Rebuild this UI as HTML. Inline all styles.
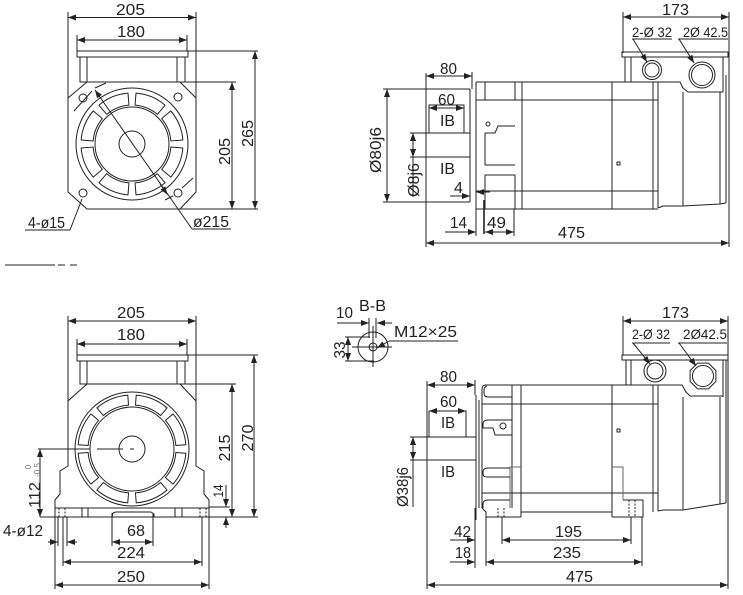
<!DOCTYPE html>
<html><head><meta charset="utf-8"><style>
html,body{margin:0;padding:0;background:#fff;}
svg{display:block;}
.d{marker-start:url(#a);marker-end:url(#a);}
.e{marker-end:url(#a);}
.s{marker-start:url(#a);}
text{font-family:"Liberation Sans",Arial,sans-serif;font-size:16px;fill:#222;stroke:none;}
.t{font-size:14px;}
</style></head><body>
<svg width="743" height="595" viewBox="0 0 743 595" xmlns="http://www.w3.org/2000/svg">
<defs>
<marker id="a" viewBox="0 0 8 6" refX="8" refY="3" markerWidth="8" markerHeight="6" markerUnits="userSpaceOnUse" orient="auto-start-reverse"><path d="M0,0L8,3L0,6z" fill="#222"/></marker>
<path id="sl1" d="M50.84,4.00 A51,51 0 0 1 38.78,33.12 L29.66,25.33 A39,39 0 0 0 38.88,3.06 Z"/>
<path id="sl2" d="M53.83,4.24 A54,54 0 0 1 41.06,35.07 L33.46,28.58 A44,44 0 0 0 43.86,3.45 Z"/>
</defs>
<rect width="743" height="595" fill="#fff"/>
<g fill="none" stroke="#222" stroke-width="1" stroke-linejoin="round">

<!-- ============ TOP LEFT ============ -->
<path d="M68,12V98M196,12V98M77,35V51M187,35V51M188,51H258M185,82H236M180,209H258"/>
<rect x="77" y="51" width="111" height="6"/>
<rect x="80" y="57" width="7" height="25"/>
<rect x="177" y="57" width="8" height="25"/>
<polygon points="87,82 180,82 196,98 196,192 180,209 87,209 68,192 68,98"/>
<line class="d" x1="68" y1="17.5" x2="196" y2="17.5"/>
<line class="d" x1="77" y1="40" x2="187" y2="40"/>
<line class="d" x1="232" y1="82" x2="232" y2="209"/>
<line class="d" x1="255" y1="51" x2="255" y2="209"/>
<circle cx="132" cy="144" r="56"/>
<circle cx="132" cy="144" r="37"/>
<circle cx="132" cy="144" r="13"/>
<g transform="translate(132,144)">
<use href="#sl1"/><use href="#sl1" transform="rotate(45)"/><use href="#sl1" transform="rotate(90)"/><use href="#sl1" transform="rotate(135)"/>
<use href="#sl1" transform="rotate(180)"/><use href="#sl1" transform="rotate(225)"/><use href="#sl1" transform="rotate(270)"/><use href="#sl1" transform="rotate(315)"/>
</g>
<circle cx="83" cy="98" r="4"/>
<circle cx="178" cy="97" r="4"/>
<circle cx="83" cy="193" r="4"/>
<circle cx="178" cy="193" r="4"/>
<path d="M74,111L92,91M95,88L106,83M165,200L173,196M182,188L193,178"/>
<line class="s" x1="95" y1="90" x2="192" y2="229"/>
<line class="e" x1="160" y1="184" x2="167.5" y2="194.5"/>
<path d="M192,229H231"/>
<polyline points="82,199 70,230 25,230"/>

<!-- ============ TOP RIGHT ============ -->
<line class="d" x1="623" y1="17" x2="729" y2="17"/>
<path d="M623,12V53M729,12V247"/>
<path d="M632,39H672M678,39H728"/>
<line class="e" x1="633" y1="39" x2="647" y2="62"/>
<line class="e" x1="679" y1="39" x2="694" y2="63"/>
<rect x="622" y="52" width="106" height="5"/>
<path d="M625,57V82M631,57V82M723,57V92"/>
<circle cx="652" cy="70" r="9.5"/><circle cx="652" cy="70" r="7"/>
<circle cx="702" cy="75" r="13"/><circle cx="702" cy="75" r="10.5"/>
<!-- body -->
<path d="M476,82H680L683,88L688,92H723"/>
<path d="M476,82V209H658"/>
<path d="M485,82V100M515,82V100M485,175V209M515,175V209M485,175H515"/>
<path d="M476,100H658M476,191H658"/>
<path d="M522,82V209M612,82V209M653,82V209M658,82V208"/>
<path d="M683,92V206M720,92V204M726,75V203"/>
<polyline points="658,208 663,206 683,206 720,204 726,203"/>
<polyline points="515,126 498,126 495,133 485,133 485,165 515,165"/>
<circle cx="488" cy="124" r="2"/>
<rect x="617" y="162" width="3" height="3"/>
<!-- shaft -->
<rect x="429" y="105" width="35" height="28"/>
<path d="M410,133H470M410,157H470M470,89V202M383,89H470M383,202H470M426,73V247M472,72V89"/>
<line class="d" x1="426" y1="76" x2="472" y2="76"/>
<line class="d" x1="429" y1="108" x2="464" y2="108"/>
<line class="d" x1="387" y1="89" x2="387" y2="202"/>
<line class="d" x1="413" y1="133" x2="413" y2="157"/>
<path d="M413,157V197"/>
<line class="e" x1="450" y1="196" x2="470" y2="196"/>
<line class="e" x1="490" y1="192" x2="476" y2="192"/>
<path d="M476,209V236M514,209V236"/>
<path d="M484,200V234" stroke-width="1.6"/>
<line class="e" x1="445" y1="232" x2="476" y2="232"/>
<line class="d" x1="485" y1="232" x2="514" y2="232"/>
<line class="d" x1="426" y1="243" x2="729" y2="243"/>

<!-- divider line -->
<path d="M5,265H55M58,265H65M70,265H77"/>

<!-- ============ BOTTOM LEFT ============ -->
<path d="M68,316V401M196,316V401M77,339V355M187,339V355M188,355H258M185,384H236"/>
<line class="d" x1="68" y1="321" x2="196" y2="321"/>
<line class="d" x1="77" y1="344" x2="187" y2="344"/>
<rect x="77" y="355" width="111" height="6"/>
<rect x="80" y="361" width="7" height="23"/>
<rect x="177" y="361" width="8" height="23"/>
<polygon points="87,384 180,384 196,401 196,466 204,471 204,494 209,500 209,517 55,517 55,500 60,494 60,471 68,466 68,401"/>
<path d="M55,508H209M40,517H258"/>
<polyline points="112,517 113,513 116,512 151,512 154,514 154,517"/>
<path d="M59,508V517M65,508V517M200,508V517M206,508V517" stroke-dasharray="2,1.5"/>
<path d="M82,508V517M88,508V517M175,508V517M182,508V517"/>
<circle cx="132" cy="449" r="57"/>
<circle cx="132" cy="449" r="42"/>
<circle cx="132" cy="449" r="13"/>
<g transform="translate(132,449)">
<use href="#sl2"/><use href="#sl2" transform="rotate(45)"/><use href="#sl2" transform="rotate(90)"/><use href="#sl2" transform="rotate(135)"/>
<use href="#sl2" transform="rotate(180)"/><use href="#sl2" transform="rotate(225)"/><use href="#sl2" transform="rotate(270)"/><use href="#sl2" transform="rotate(315)"/>
</g>
<path d="M38,449H90M97,449H123M130,449H134"/>
<line class="d" x1="40" y1="449" x2="40" y2="517"/>
<line class="d" x1="232" y1="384" x2="232" y2="517"/>
<line class="d" x1="254" y1="355" x2="254" y2="517"/>
<line class="e" x1="226" y1="485" x2="226" y2="507"/>
<path d="M209,507H230"/>
<line class="e" x1="226" y1="528" x2="226" y2="517"/>
<path d="M58,517V546M67,517V546M112,513V546M153,513V546M63,517V566M202,517V566M55,517V589M209,517V589"/>
<line class="e" x1="48" y1="542" x2="58" y2="542"/>
<line class="e" x1="77" y1="542" x2="67" y2="542"/>
<line class="d" x1="112" y1="542" x2="153" y2="542"/>
<line class="d" x1="63" y1="562" x2="202" y2="562"/>
<line class="d" x1="55" y1="585" x2="209" y2="585"/>

<!-- ============ B-B ============ -->
<line class="e" x1="337" y1="323" x2="369" y2="323"/>
<line class="e" x1="392" y1="323" x2="377" y2="323"/>
<path d="M369,318V338M376,318V338"/>
<circle cx="373" cy="347" r="15"/>
<circle cx="373" cy="347" r="4"/>
<path d="M352,347H392M373,326V367"/>
<path d="M345,337H370M345,361H374"/>
<line class="d" x1="348" y1="337" x2="348" y2="361"/>
<line class="e" x1="389" y1="341" x2="377" y2="348"/>
<path d="M389,341H458"/>

<!-- ============ BOTTOM RIGHT ============ -->
<line class="d" x1="623" y1="321" x2="728" y2="321"/>
<path d="M623,316V355M728,316V589"/>
<path d="M632,343H670M678,343H727"/>
<line class="e" x1="633" y1="343" x2="650" y2="364"/>
<line class="e" x1="679" y1="343" x2="696" y2="366"/>
<rect x="622" y="355" width="106" height="5"/>
<path d="M626,360V385M631,360V385M723,360V397"/>
<circle cx="655" cy="371" r="11"/><circle cx="655" cy="371" r="8"/>
<polygon points="715.9,381.4 708.4,388.9 697.6,388.9 690.1,381.4 690.1,370.6 697.6,363.1 708.4,363.1 715.9,370.6"/>
<circle cx="703" cy="376" r="10.5"/>
<!-- body -->
<path d="M485,385H682L686,392L690,396H723"/>
<path d="M482,508V389Q482,385 486,385"/>
<path d="M476,395V520M479,400V508"/>
<path d="M512,385V508M521,385V517"/>
<path d="M482,404H658M482,493H658"/>
<path d="M521,512H612M612,385V517M653,385V512M658,385V511"/>
<path d="M683,397V510M720,397V504M726,360V503"/>
<polyline points="658,511 663,510 683,510 720,504 726,503"/>
<path d="M482,508L486,512V517H521"/>
<path d="M612,517H643V500H623"/>
<path d="M510,467H521M510,467V508M612,467H623V500" stroke="#666"/>
<path d="M498,508V517M504,508V517M629,500V517M635,500V517" stroke-dasharray="2,1.5"/>
<path d="M512,397H488Q484,397 484,393V390Q484,387 487,386"/>
<path d="M512,420H488Q483,420 483,424V428H493L495,435H512"/>
<circle cx="503" cy="426" r="3"/>
<path d="M510,468H488Q483,468 483,472V474Q483,477 487,477H510"/>
<path d="M510,500H488Q483,500 483,504V508"/>
<rect x="617" y="429" width="3" height="3"/>
<!-- shaft -->
<rect x="429" y="411" width="37" height="26"/>
<path d="M410,437H476M410,460H476M427,381V589M475,380V395"/>
<line class="d" x1="427" y1="385" x2="475" y2="385"/>
<line class="d" x1="429" y1="411" x2="466" y2="411"/>
<line class="d" x1="413" y1="437" x2="413" y2="460"/>
<path d="M413,460V507"/>
<path d="M475,508V568M486,517V566M502,517V544M631,517V544M642,517V566"/>
<line class="e" x1="450" y1="540" x2="475" y2="540"/>
<line class="d" x1="502" y1="540" x2="631" y2="540"/>
<line class="e" x1="450" y1="562" x2="475" y2="562"/>
<line class="d" x1="486" y1="562" x2="642" y2="562"/>
<line class="d" x1="427" y1="585" x2="728" y2="585"/>
</g>

<!-- ============ TEXT ============ -->
<g>
<!-- top left -->
<text x="116" y="15" textLength="29" lengthAdjust="spacingAndGlyphs">205</text>
<text x="117" y="37" textLength="28" lengthAdjust="spacingAndGlyphs">180</text>
<text transform="translate(253,133.5) rotate(-90)" text-anchor="middle" textLength="27" lengthAdjust="spacingAndGlyphs">265</text>
<text transform="translate(230,151.5) rotate(-90)" text-anchor="middle" textLength="27" lengthAdjust="spacingAndGlyphs">205</text>
<text x="28" y="228" textLength="37" lengthAdjust="spacingAndGlyphs">4-ø15</text>
<text x="193" y="227" textLength="36" lengthAdjust="spacingAndGlyphs">ø215</text>
<!-- top right -->
<text x="662" y="15" textLength="27" lengthAdjust="spacingAndGlyphs">173</text>
<text class="t" x="632" y="37" textLength="40" lengthAdjust="spacingAndGlyphs">2-Ø 32</text>
<text class="t" x="683" y="37" textLength="45" lengthAdjust="spacingAndGlyphs">2Ø 42.5</text>
<text x="440" y="74" textLength="17" lengthAdjust="spacingAndGlyphs">80</text>
<text x="438" y="105" textLength="17" lengthAdjust="spacingAndGlyphs">60</text>
<text x="440" y="126" textLength="15" lengthAdjust="spacingAndGlyphs">IB</text>
<text x="440" y="174" textLength="15" lengthAdjust="spacingAndGlyphs">IB</text>
<text transform="translate(381,150) rotate(-90)" text-anchor="middle" textLength="46" lengthAdjust="spacingAndGlyphs">Ø80j6</text>
<text transform="translate(419,180) rotate(-90)" text-anchor="middle" textLength="34" lengthAdjust="spacingAndGlyphs">Ø8j6</text>
<text x="454" y="193">4</text>
<text x="450" y="228" textLength="17" lengthAdjust="spacingAndGlyphs">14</text>
<text x="487" y="228" textLength="19" lengthAdjust="spacingAndGlyphs">49</text>
<text x="558" y="238" textLength="27" lengthAdjust="spacingAndGlyphs">475</text>
<!-- bottom left -->
<text x="117" y="318" textLength="28" lengthAdjust="spacingAndGlyphs">205</text>
<text x="117" y="340" textLength="28" lengthAdjust="spacingAndGlyphs">180</text>
<text transform="translate(253,438) rotate(-90)" text-anchor="middle" textLength="27" lengthAdjust="spacingAndGlyphs">270</text>
<text transform="translate(230,448) rotate(-90)" text-anchor="middle" textLength="27" lengthAdjust="spacingAndGlyphs">215</text>
<text class="t" transform="translate(223,491) rotate(-90)" text-anchor="middle" textLength="13" lengthAdjust="spacingAndGlyphs">14</text>
<text transform="translate(40,495) rotate(-90)" text-anchor="middle" textLength="26" lengthAdjust="spacingAndGlyphs">112</text>
<text transform="translate(31,467) rotate(-90)" text-anchor="middle" style="font-size:8px;fill:#777">0</text>
<text transform="translate(40,470) rotate(-90)" text-anchor="middle" style="font-size:8px;fill:#777">-0.5</text>
<text x="3" y="536" textLength="40" lengthAdjust="spacingAndGlyphs">4-ø12</text>
<text x="127" y="536" textLength="18" lengthAdjust="spacingAndGlyphs">68</text>
<text x="117" y="558" textLength="28" lengthAdjust="spacingAndGlyphs">224</text>
<text x="117" y="582" textLength="28" lengthAdjust="spacingAndGlyphs">250</text>
<!-- B-B -->
<text x="359" y="311" textLength="27" lengthAdjust="spacingAndGlyphs">B-B</text>
<text x="336" y="318" textLength="17" lengthAdjust="spacingAndGlyphs">10</text>
<text transform="translate(345,350) rotate(-90)" text-anchor="middle" textLength="17" lengthAdjust="spacingAndGlyphs">33</text>
<text x="394" y="337" textLength="63" lengthAdjust="spacingAndGlyphs">M12×25</text>
<!-- bottom right -->
<text x="662" y="318" textLength="27" lengthAdjust="spacingAndGlyphs">173</text>
<text class="t" x="632" y="339" textLength="38" lengthAdjust="spacingAndGlyphs">2-Ø 32</text>
<text class="t" x="683" y="339" textLength="44" lengthAdjust="spacingAndGlyphs">2Ø42.5</text>
<text x="440" y="382" textLength="17" lengthAdjust="spacingAndGlyphs">80</text>
<text x="440" y="407" textLength="17" lengthAdjust="spacingAndGlyphs">60</text>
<text x="441" y="428" textLength="14" lengthAdjust="spacingAndGlyphs">IB</text>
<text x="441" y="477" textLength="14" lengthAdjust="spacingAndGlyphs">IB</text>
<text transform="translate(408,487) rotate(-90)" text-anchor="middle" textLength="40" lengthAdjust="spacingAndGlyphs">Ø38j6</text>
<text x="454" y="537" textLength="17" lengthAdjust="spacingAndGlyphs">42</text>
<text x="555" y="537" textLength="27" lengthAdjust="spacingAndGlyphs">195</text>
<text x="455" y="558" textLength="16" lengthAdjust="spacingAndGlyphs">18</text>
<text x="553" y="558" textLength="28" lengthAdjust="spacingAndGlyphs">235</text>
<text x="566" y="582" textLength="27" lengthAdjust="spacingAndGlyphs">475</text>
</g>
</svg>
</body></html>
